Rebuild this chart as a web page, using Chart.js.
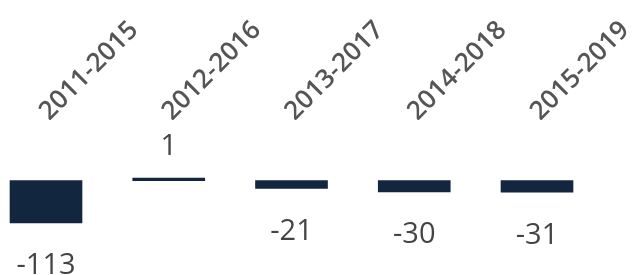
<!DOCTYPE html>
<html>
<head>
<meta charset="utf-8">
<script src="https://cdn.jsdelivr.net/npm/chart.js@4/dist/chart.umd.min.js"></script>
<style>
  html, body { margin: 0; padding: 0; background: #fff; }
  #wrap { width: 635px; height: 275px; }
</style>
</head>
<body>
<div id="wrap"><canvas id="chart" width="635" height="275"></canvas></div>
<script>
// categories and values
const periods = ['2011-2015', '2012-2016', '2013-2017', '2014-2018', '2015-2019'];
const changes = [-113, 1, -21, -30, -31];
const yMin = -113;
const yMax = 162;

const barColor = '#13263f';

// draws the value under (or over) every bar
const valueLabels = {
    id: 'valueLabels',
    afterDatasetsDraw(chart) {
        const ctx = chart.ctx;
        const meta = chart.getDatasetMeta(0);
        ctx.save();
        ctx.font = '29px "Open Sans"';
        ctx.fillStyle = '#444444';
        ctx.textAlign = 'center';
        ctx.textBaseline = 'middle';
        meta.data.forEach((bar, i) => {
            const v = changes[i];
            const y = v >= 0 ? bar.y - 31 : bar.y + 43;
            ctx.fillText(String(v), bar.x, y);
        });
        ctx.restore();
    }
};

const ctx = document.getElementById('chart').getContext('2d');
new Chart(ctx, {
    type: 'bar',
    data: {
        labels: periods,
        datasets: [{
            data: changes,
            backgroundColor: barColor,
            borderWidth: 0,
            barThickness: 72,
            minBarLength: 2.5,
            clip: false,
        }],
    },
    options: {
        responsive: false,
        animation: false,
        layout: {
            padding: { left: 46, right: 98, top: 10, bottom: 52 },
        },
        plugins: {
            legend: { display: false },
            tooltip: { enabled: false },
        },
        scales: {
            x: {
                position: 'top',
                offset: false,
                grid: { display: false, drawTicks: false },
                border: { display: false },
                ticks: {
                    minRotation: 45,
                    maxRotation: 45,
                    padding: -7,
                    labelOffset: 20,
                    color: '#555555',
                    font: { family: 'Open Sans', size: 26, weight: '600' },
                },
                afterFit(scale) {
                    scale.height = 110;
                    scale.paddingLeft = 0;
                    scale.paddingRight = 0;
                },
            },
            y: {
                display: false,
                min: yMin,
                max: yMax,
            },
        },
    },
    plugins: [valueLabels],
});
</script>
</body>
</html>
